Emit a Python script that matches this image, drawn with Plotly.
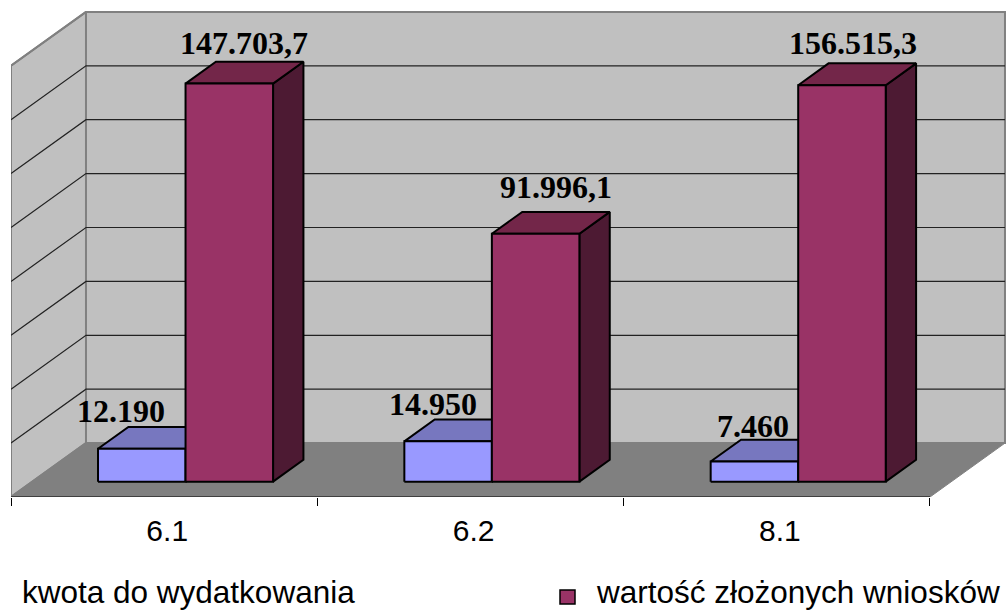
import plotly.graph_objects as go

# ---- data ----
categories = ["6.1", "6.2", "8.1"]
kwota_values = [12190, 14950, 7460]
kwota_labels = ["12.190", "14.950", "7.460"]
# the third tall bar is drawn lower than its printed label says
wnioski_values = [147703.7, 91996.1, 147100]
wnioski_labels = ["147.703,7", "91.996,1", "156.515,3"]
grid_values = [20000, 40000, 60000, 80000, 100000, 120000, 140000, 160000]
series_names = ["kwota do wydatkowania", "wartość złożonych wniosków"]

# ---- styles / layout constants ----
W, H = 1006, 612
ML, MB = 11, 115
PX_PER_CAT = 306.33
PX_PER_VALUE = 0.002695
DEPTH_X = 0.2448      # category units for the full floor depth
DEPTH_Y = 20000       # value units for the full floor depth
BAR_W = 1 / 3.5
BAR_START = 0.75 * BAR_W
D_FRONT, D_BACK = 0.285, 0.69
BLUE = ("#9999FF", "#7777BF", "#4D4D80")
RED = ("#993366", "#732649", "#4D1A33")
WALL, FLOOR, EDGE = "#C0C0C0", "#808080", "#808080"
GRID = "#222222"
ncat = len(categories)
top_value = max(grid_values)


def proj(x, v, d):
    return x + DEPTH_X * d, v + DEPTH_Y * d


def poly(points, fill, line="black", width=2):
    xs, ys = zip(*(proj(*p) for p in points))
    return go.Scatter(x=list(xs) + [xs[0]], y=list(ys) + [ys[0]], mode="lines",
                      fill="toself", fillcolor=fill,
                      line=dict(color=line, width=width),
                      hoverinfo="skip", showlegend=False, cliponaxis=False)


def path(points, color, width=1):
    xs, ys = zip(*(proj(*p) for p in points))
    return go.Scatter(x=list(xs), y=list(ys), mode="lines",
                      line=dict(color=color, width=width),
                      hoverinfo="skip", showlegend=False, cliponaxis=False)


def box(x0, x1, v, colors):
    d0, d1 = D_FRONT, D_BACK
    return [
        poly([(x1, 0, d0), (x1, 0, d1), (x1, v, d1), (x1, v, d0)], colors[2]),
        poly([(x0, v, d0), (x0, v, d1), (x1, v, d1), (x1, v, d0)], colors[1]),
        poly([(x0, 0, d0), (x1, 0, d0), (x1, v, d0), (x0, v, d0)], colors[0]),
    ]


fig = go.Figure()
# walls and floor
fig.add_trace(poly([(0, 0, 0), (0, 0, 1), (0, top_value, 1), (0, top_value, 0)], WALL, EDGE, 2))
fig.add_trace(poly([(0, 0, 1), (ncat, 0, 1), (ncat, top_value, 1), (0, top_value, 1)], WALL, EDGE, 2))
fig.add_trace(poly([(0, 0, 0), (0, 0, 1), (ncat, 0, 1), (ncat, 0, 0)], FLOOR, FLOOR, 1))
# gridlines
for g in grid_values[:-1]:
    fig.add_trace(path([(0, g, 0), (0, g, 1), (ncat, g, 1)], GRID, 1.2))
fig.add_trace(path([(0, top_value, 0), (0, top_value, 1), (ncat, top_value, 1)], EDGE, 2))
fig.add_trace(path([(0, 0, 1), (ncat, 0, 1)], EDGE, 2))
fig.add_trace(path([(0, 0, 0), (0, 0, 1)], EDGE, 2))
fig.add_trace(path([(0, 0, 0), (ncat, 0, 0)], "black", 1))

# bars
for i in range(ncat):
    x0 = i + BAR_START
    for t in box(x0, x0 + BAR_W, kwota_values[i], BLUE):
        fig.add_trace(t)
    for t in box(x0 + BAR_W, x0 + 2 * BAR_W, wnioski_values[i], RED):
        fig.add_trace(t)

# value labels (hand-placed in the original, hence px shifts)
kwota_shift = [(-21, 38), (-15, 37), (-1.5, 36)]
wnioski_shift = [(15, 41), (20.5, 47), (11, 42)]
annots = []
for i in range(ncat):
    for k, (vals, labs, shifts) in enumerate([(kwota_values, kwota_labels, kwota_shift),
                                              (wnioski_values, wnioski_labels, wnioski_shift)]):
        xc = i + BAR_START + (k + 0.5) * BAR_W
        px, py = proj(xc, vals[i], D_FRONT)
        annots.append(dict(x=px, y=py, text=f"<b>{labs[i]}</b>", showarrow=False,
                           xanchor="center", yanchor="middle",
                           xshift=shifts[i][0], yshift=shifts[i][1],
                           font=dict(family="Liberation Serif", size=32, color="black")))

# legend text (the first key is not visible in the reference)
plot_h = H - MB
plot_w = W - ML
for name, left in zip(series_names, (20, 594)):
    annots.append(dict(xref="paper", yref="paper", x=(left - ML) / plot_w, y=(plot_h - 612) / plot_h,
                       text=name, showarrow=False, xanchor="left", yanchor="bottom",
                       font=dict(family="Liberation Sans", size=31.5, color="black")))

shapes = [dict(type="rect", xref="paper", yref="paper", layer="above",
               x0=(560 - ML) / plot_w, x1=(575 - ML) / plot_w,
               y0=(plot_h - 604) / plot_h, y1=(plot_h - 590) / plot_h,
               fillcolor=RED[0], line=dict(color="black", width=1.5))]

fig.update_layout(
    width=W, height=H, margin=dict(l=ML, r=0, t=0, b=MB, pad=0),
    paper_bgcolor="white", plot_bgcolor="white", showlegend=False,
    annotations=annots, shapes=shapes,
    xaxis=dict(range=[0, plot_w / PX_PER_CAT], tickmode="array",
               tickvals=[i + 0.51 for i in range(ncat)], ticktext=categories,
               ticks="", ticklabelstandoff=13, showgrid=False, zeroline=False,
               showline=False,
               tickfont=dict(family="Liberation Sans", size=30, color="black"),
               minor=dict(tickmode="array", tickvals=list(range(ncat + 1)), ticks="outside",
                          ticklen=8, tickcolor="black", tickwidth=1, showgrid=False)),
    yaxis=dict(range=[0, plot_h / PX_PER_VALUE], visible=False, fixedrange=True),
)
fig.write_html("out.html", config=dict(displayModeBar=False),
               post_script="document.body.style.margin='0';document.body.style.overflow='hidden';")
